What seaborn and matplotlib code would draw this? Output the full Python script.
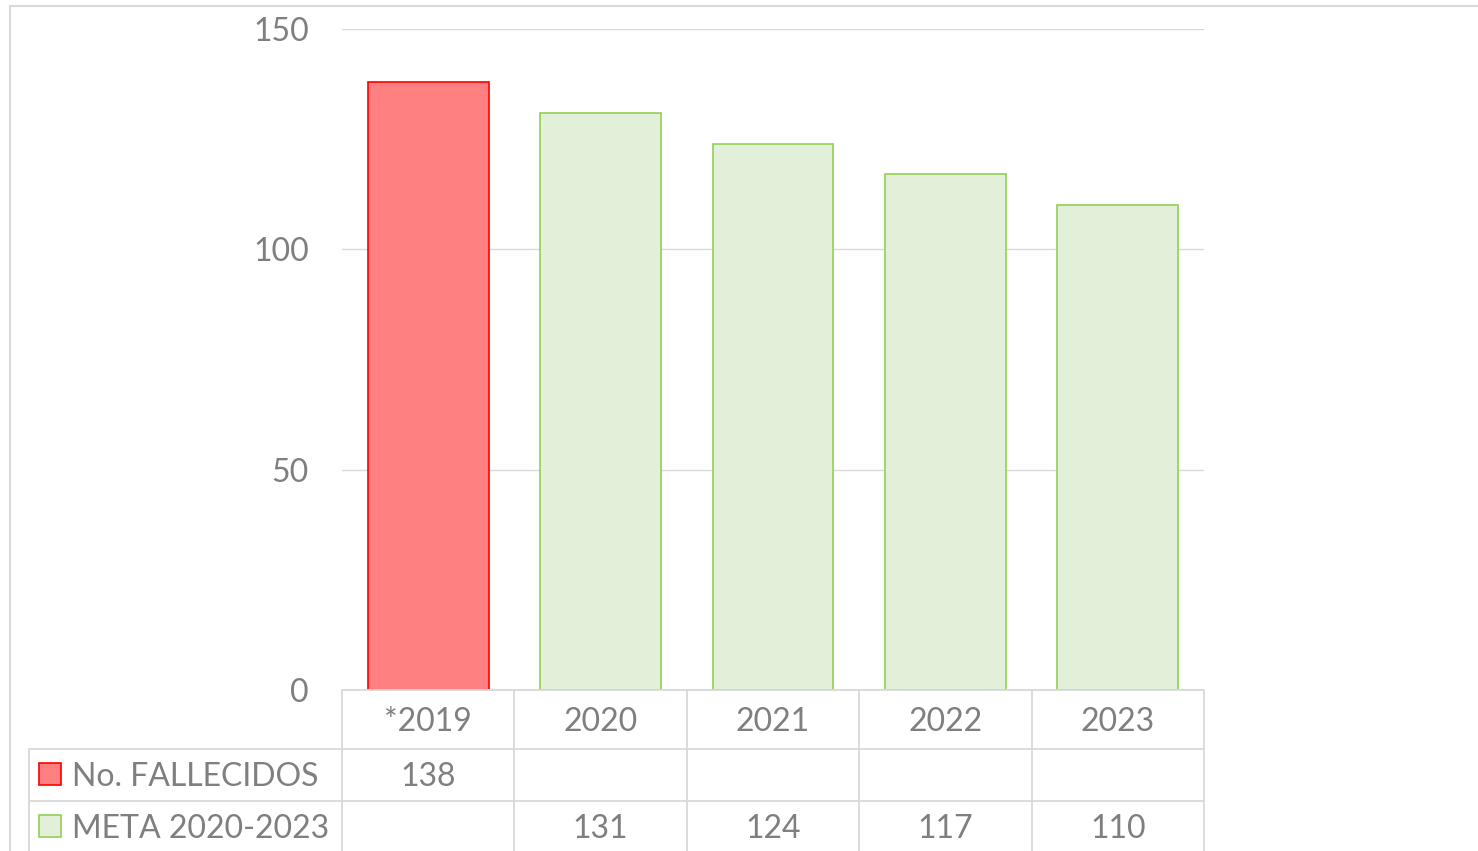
import matplotlib
matplotlib.use("Agg")
import matplotlib.pyplot as plt
import pandas as pd
import seaborn as sns
from matplotlib.patches import Rectangle

years = ["*2019", "2020", "2021", "2022", "2023"]
fallecidos = [138, None, None, None, None]
meta = [None, 131, 124, 117, 110]
series_names = ["No. FALLECIDOS", "META 2020-2023"]
yticks = [0, 50, 100, 150]

FILL = {"No. FALLECIDOS": "#FF8080", "META 2020-2023": "#E2F0D9"}
EDGE = {"No. FALLECIDOS": "#FF0000", "META 2020-2023": "#92D050"}
TEXT = "#7F7F7F"
GRID = "#D9D9D9"

sns.set_style("white")
plt.rcParams["font.family"] = ["Lato", "DejaVu Sans"]

rows = []
for i, y in enumerate(years):
    if fallecidos[i] is not None:
        rows.append({"year": y, "value": fallecidos[i], "serie": series_names[0]})
    if meta[i] is not None:
        rows.append({"year": y, "value": meta[i], "serie": series_names[1]})
df = pd.DataFrame(rows)

fig = plt.figure(figsize=(14.78, 8.51), dpi=100)
ax = fig.add_axes([342 / 1478, 1 - 690 / 851, 862 / 1478, 661 / 851])

sns.barplot(data=df, x="year", y="value", hue="serie", order=years,
            palette=FILL, saturation=1, dodge=False, width=0.7,
            legend=False, ax=ax)
# edge colour follows the series of each bar
for bar in ax.patches:
    if bar.get_height() == 0:
        continue
    k = int(round(bar.get_x() + bar.get_width() / 2))
    name = series_names[0] if fallecidos[k] is not None else series_names[1]
    bar.set_facecolor(FILL[name])
    bar.set_edgecolor(EDGE[name])
    bar.set_linewidth(1.2)

ax.set_xlim(-0.5, 4.5)
ax.set_ylim(0, 150)
ax.set_yticks(yticks)
ax.set_yticklabels([str(t) for t in yticks], fontsize=23, color=TEXT)
ax.tick_params(axis="y", length=0, pad=24)
ax.set_xticks([])
ax.set_xlabel("")
ax.set_ylabel("")
ax.grid(axis="y", color=GRID, linewidth=1)
ax.set_axisbelow(True)
for s in ax.spines.values():
    s.set_visible(False)

# data table below the plot (axes coordinates)
tr = ax.transAxes
px_y = lambda p: (690 - p) / 661
px_x = lambda p: (p - 342) / 862
y_top, y_r1, y_r2, y_bot = px_y(690), px_y(749), px_y(801), px_y(900)
x_lab = px_x(29)
cell_kw = dict(color=GRID, linewidth=1.3, transform=tr, clip_on=False)

ax.plot([0, 1], [y_top, y_top], **cell_kw)
ax.plot([x_lab, 1], [y_r1, y_r1], **cell_kw)
ax.plot([x_lab, 1], [y_r2, y_r2], **cell_kw)
ax.plot([x_lab, x_lab], [y_r1, y_bot], **cell_kw)
for k in range(len(years) + 1):
    xk = k / len(years)
    ax.plot([xk, xk], [y_top, y_bot], **cell_kw)

def cx(k):
    return (k + 0.5) / len(years)

for k, y in enumerate(years):
    ax.text(cx(k), px_y(722), y, transform=tr, ha="center", va="center",
            fontsize=23, color=TEXT, clip_on=False)
for r, (name, vals) in enumerate(zip(series_names, [fallecidos, meta])):
    yc = px_y(777 if r == 0 else 829)
    ax.add_patch(Rectangle((px_x(39), yc - 8 / 661), 22 / 862, 22 / 661,
                           transform=tr, facecolor=FILL[name], edgecolor=EDGE[name],
                           linewidth=1.2, clip_on=False))
    ax.text(px_x(72), yc, name, transform=tr, ha="left", va="center",
            fontsize=23, color=TEXT, clip_on=False)
    for k, v in enumerate(vals):
        if v is not None:
            ax.text(cx(k), yc, str(v), transform=tr, ha="center", va="center",
                    fontsize=23, color=TEXT, clip_on=False)

# outer chart frame
fig.patches.append(Rectangle((10 / 1478, -0.1), 1.2, 1 - 6 / 851 + 0.1,
                             transform=fig.transFigure, fill=False,
                             edgecolor="#D9D9D9", linewidth=1.5))

fig.savefig("out.png", dpi=100)
plt.close(fig)
